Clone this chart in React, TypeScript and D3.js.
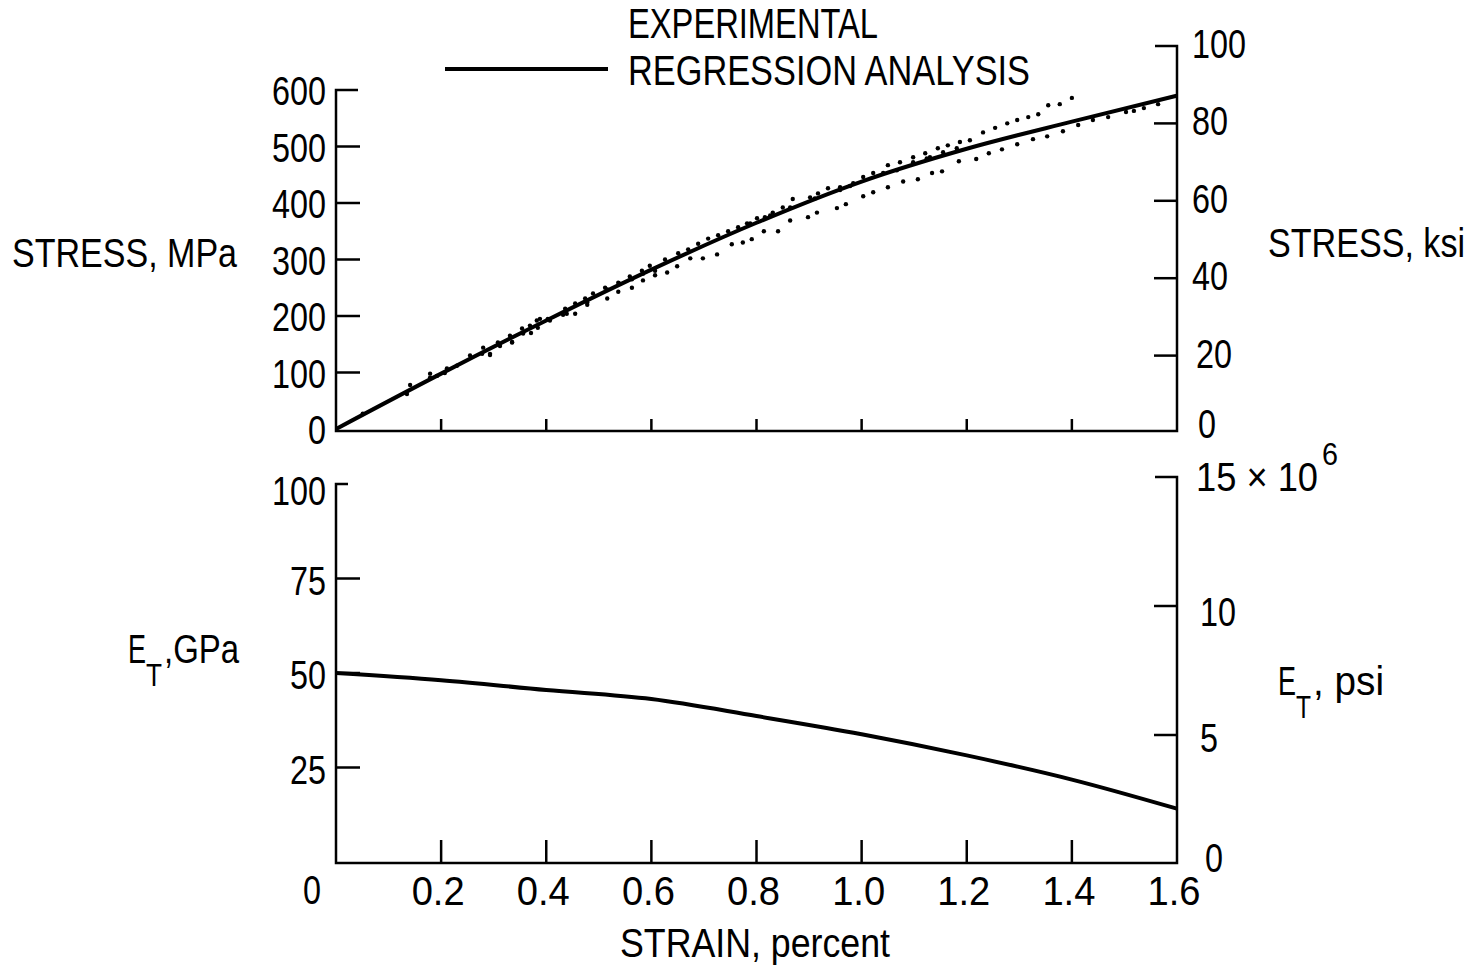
import * as d3 from "d3";

// regression curve (stress, MPa vs strain, percent)
const fitStrain = [0, 0.2, 0.4, 0.6, 0.8, 1.0, 1.2, 1.4, 1.6];
const fitStress = [0, 98, 192, 282, 365, 438, 496, 544, 590];
// tangent modulus, GPa
const fitModulus = [50, 48.1, 45.5, 43.1, 38.6, 33.8, 28.2, 21.8, 14.1];

// experimental points, [strain, stress MPa]
const specimenUpper = [
  [0.141, 78], [0.179, 98], [0.211, 107], [0.23, 112], [0.255, 130], [0.28, 144], [0.308, 153],
  [0.331, 165], [0.354, 178], [0.369, 183], [0.382, 192], [0.403, 195], [0.436, 213], [0.455, 222],
  [0.474, 231], [0.489, 240], [0.512, 250], [0.537, 259], [0.559, 270], [0.582, 280], [0.597, 289],
  [0.626, 300], [0.651, 311], [0.67, 318], [0.689, 328], [0.708, 337], [0.727, 343], [0.746, 350],
  [0.765, 357], [0.782, 364], [0.801, 373], [0.816, 375], [0.831, 383], [0.85, 392], [0.869, 407],
  [0.902, 410], [0.917, 417], [0.936, 426], [0.959, 428], [0.978, 430], [1.003, 446], [1.022, 453],
  [1.041, 453], [1.05, 467], [1.073, 472], [1.098, 481], [1.121, 488], [1.13, 481], [1.145, 497],
  [1.164, 502], [1.187, 508], [1.206, 511], [1.231, 525], [1.254, 533], [1.277, 541], [1.296, 547],
  [1.317, 552], [1.336, 557], [1.355, 573], [1.377, 575], [1.4, 586],
];
const specimenMiddle = [
  [0.051, 27], [0.135, 62], [0.179, 91], [0.192, 94], [0.207, 99], [0.278, 133], [0.293, 133],
  [0.312, 147], [0.335, 154], [0.356, 169], [0.384, 179], [0.388, 195], [0.407, 192], [0.439, 204],
  [0.478, 224], [0.516, 247], [0.54, 257], [0.563, 265], [0.584, 275], [0.607, 280], [0.788, 364],
  [0.826, 378], [0.864, 392], [0.911, 408], [0.959, 423], [0.984, 435], [1.067, 458], [1.098, 472],
  [1.124, 479], [1.155, 490], [1.181, 497],
];
const specimenLower = [
  [0.293, 131], [0.335, 153], [0.371, 170], [0.432, 202], [0.455, 204], [0.478, 220], [0.516, 231],
  [0.537, 243], [0.563, 250], [0.584, 263], [0.607, 272], [0.63, 277], [0.649, 288], [0.674, 302],
  [0.698, 302], [0.725, 309], [0.753, 327], [0.774, 330], [0.791, 336], [0.814, 350], [0.841, 350],
  [0.864, 369], [0.898, 375], [0.915, 383], [0.953, 391], [0.97, 398], [1.003, 412], [1.022, 419],
  [1.05, 428], [1.079, 438], [1.107, 442], [1.134, 453], [1.153, 456], [1.185, 474], [1.218, 478],
  [1.242, 488], [1.267, 495], [1.296, 504], [1.326, 513], [1.353, 518], [1.383, 527], [1.412, 538],
  [1.44, 547], [1.469, 552], [1.503, 561], [1.518, 563], [1.537, 568], [1.564, 575],
];

const strainTicks = [0.2, 0.4, 0.6, 0.8, 1.0, 1.2, 1.4, 1.6];
const mpaTicks = [0, 100, 200, 300, 400, 500, 600];
const ksiTicks = [0, 20, 40, 60, 80, 100];
const gpaTicks = [25, 50, 75, 100];
const psiTicks = [0, 5, 10];

const FONT = "'Liberation Sans', Arial, sans-serif";
const DIGIT = 18; // the narrow digits of the original lettering

// narrow lettering: squeeze each text to the width it takes in the original
function Label({ x, y, w, size = 41, anchor = "start", children }: any) {
  return (
    <text x={x} y={y} fontSize={size} textAnchor={anchor} textLength={w} lengthAdjust="spacingAndGlyphs">
      {children}
    </text>
  );
}

export default function App() {
  const x = d3.scaleLinear().domain([0, 1.6]).range([336, 1177]);
  const yMpa = d3.scaleLinear().domain([0, 600]).range([429, 90]);
  const yKsi = d3.scaleLinear().domain([0, 100]).range([433, 46]);
  const yGpa = d3.scaleLinear().domain([0, 100]).range([862, 484]);
  const yPsi = d3.scaleLinear().domain([0, 15]).range([864, 477]);
  const topBase = 431;
  const botBase = 863;

  const stressLine = d3
    .line<number>()
    .x((d, i) => x(fitStrain[i]))
    .y((d) => yMpa(d))
    .curve(d3.curveMonotoneX);
  const modulusLine = d3
    .line<number>()
    .x((d, i) => x(fitStrain[i]))
    .y((d) => yGpa(d))
    .curve(d3.curveMonotoneX);

  const dots = [...specimenUpper, ...specimenMiddle, ...specimenLower];
  const numW = (t: number) => String(t).length * DIGIT;

  return (
    <svg width={1476} height={971} style={{ position: "absolute", left: 0, top: 0, background: "#fff" }}
      fontFamily={FONT} fill="#000">
      {/* legend */}
      <Label x={628} y={38} w={250} size={42}>EXPERIMENTAL</Label>
      <line x1={445} x2={608} y1={69} y2={69} stroke="#000" strokeWidth={4} />
      <Label x={628} y={85} w={402} size={42}>REGRESSION ANALYSIS</Label>

      {/* top panel frame */}
      <g stroke="#000" strokeWidth={2.5} fill="none">
        <path d={`M${x(0) + 22},${yMpa(600)}H${x(0)}V${topBase}H${x(1.6)}V${yKsi(100)}H${x(1.6) - 22}`} />
        {mpaTicks.slice(1, -1).map((t) => (
          <line key={t} x1={x(0)} x2={x(0) + 24} y1={yMpa(t)} y2={yMpa(t)} />
        ))}
        {ksiTicks.slice(1, -1).map((t) => (
          <line key={t} x1={x(1.6)} x2={x(1.6) - 23} y1={yKsi(t)} y2={yKsi(t)} />
        ))}
        {strainTicks.slice(0, -1).map((t) => (
          <line key={t} x1={x(t)} x2={x(t)} y1={topBase} y2={topBase - 12} />
        ))}
      </g>

      {/* top panel labels */}
      {mpaTicks.map((t) => (
        <Label key={t} x={326} y={yMpa(t) + 15} w={numW(t)} anchor="end">{t}</Label>
      ))}
      {ksiTicks.map((t) => (
        <Label key={t} x={t === 0 ? 1198 : t === 20 ? 1196 : 1192} y={yKsi(t) + (t === 0 ? 5 : 12)} w={numW(t)}>
          {t}
        </Label>
      ))}
      <Label x={12} y={267} w={225} size={40}>STRESS, MPa</Label>
      <Label x={1268} y={257} w={197} size={40}>STRESS, ksi</Label>

      {/* experimental points */}
      {dots.map((d, i) => (
        <circle key={i} cx={x(d[0])} cy={yMpa(d[1])} r={2.2} />
      ))}
      <path d={stressLine(fitStress) || ""} fill="none" stroke="#000" strokeWidth={4} />

      {/* bottom panel frame */}
      <g stroke="#000" strokeWidth={2.5} fill="none">
        <path d={`M${x(0) + 12},${yGpa(100)}H${x(0)}V${botBase}H${x(1.6)}V${yPsi(15)}H${x(1.6) - 22}`} />
        {gpaTicks.slice(0, -1).map((t) => (
          <line key={t} x1={x(0)} x2={x(0) + 24} y1={yGpa(t)} y2={yGpa(t)} />
        ))}
        {psiTicks.slice(1).map((t) => (
          <line key={t} x1={x(1.6)} x2={x(1.6) - 23} y1={yPsi(t)} y2={yPsi(t)} />
        ))}
        {strainTicks.slice(0, -1).map((t) => (
          <line key={t} x1={x(t)} x2={x(t)} y1={botBase} y2={botBase - 23} />
        ))}
      </g>
      <path d={modulusLine(fitModulus) || ""} fill="none" stroke="#000" strokeWidth={4} />

      {/* bottom panel labels */}
      {gpaTicks.map((t) => (
        <Label key={t} x={326} y={yGpa(t) + (t === 100 ? 21 : 16)} w={numW(t)} anchor="end">{t}</Label>
      ))}
      {psiTicks.map((t) => (
        <Label key={t} x={t === 0 ? 1205 : 1200} y={yPsi(t) + (t === 10 ? 20 : t === 5 ? 17 : 8)} w={numW(t)}>
          {t}
        </Label>
      ))}
      <Label x={1196} y={491} w={122}>15 × 10</Label>
      <Label x={1322} y={465} w={16} size={32}>6</Label>
      <Label x={128} y={663} w={18} size={40}>E</Label>
      <Label x={146} y={686} w={16} size={32}>T</Label>
      <Label x={164} y={663} w={75} size={40}>,GPa</Label>
      <Label x={1278} y={695} w={18} size={40}>E</Label>
      <Label x={1296} y={718} w={15} size={32}>T</Label>
      <Label x={1313} y={695} w={71} size={40}>, psi</Label>

      {/* x axis labels */}
      <Label x={x(0) - 24} y={904} w={DIGIT} anchor="middle">0</Label>
      {strainTicks.map((t) => (
        <Label key={t} x={x(t) - 3} y={905} w={53} anchor="middle">{t.toFixed(1)}</Label>
      ))}
      <Label x={755} y={957} w={270} size={40} anchor="middle">STRAIN, percent</Label>
    </svg>
  );
}
